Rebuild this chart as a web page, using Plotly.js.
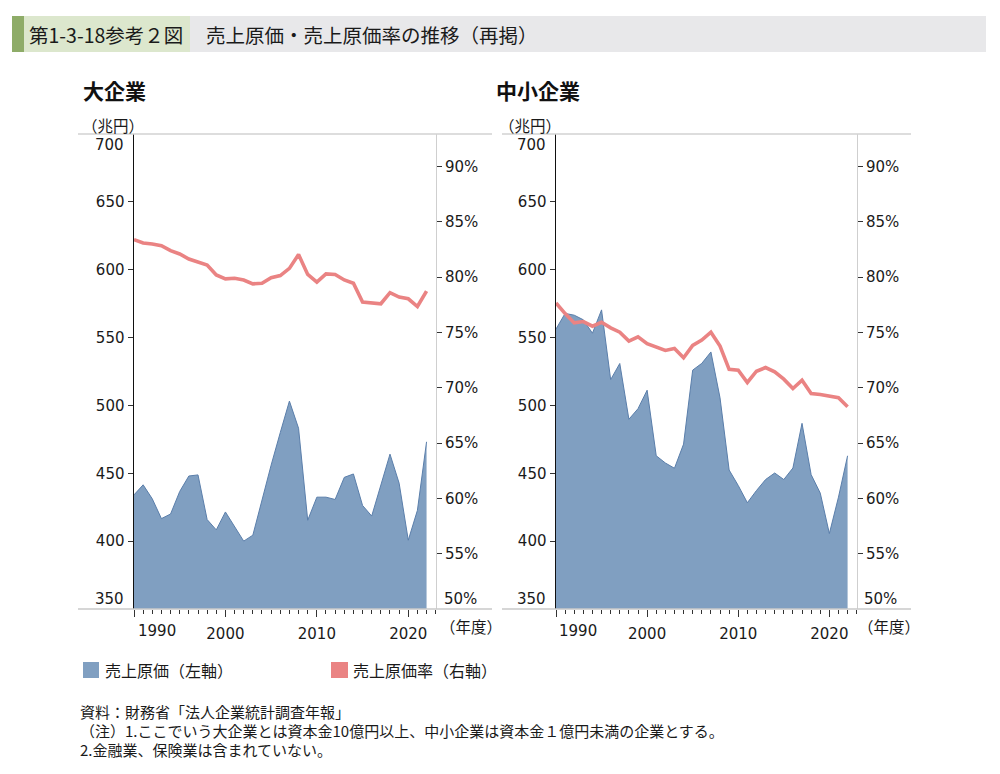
<!DOCTYPE html>
<html>
<head>
<meta charset="utf-8">
<script src="https://cdn.plot.ly/plotly-3.0.1.min.js"></script>
<style>
html,body{margin:0;padding:0;background:#fff;}
#chart{width:1000px;height:774px;}
</style>
</head>
<body>
<div id="chart"></div>
<script>
// ---- data ----
const years = [1990,1991,1992,1993,1994,1995,1996,1997,1998,1999,2000,2001,2002,2003,2004,2005,2006,2007,2008,2009,2010,2011,2012,2013,2014,2015,2016,2017,2018,2019,2020,2021,2022];
// 大企業
const largeCost = [434.1,441.5,431.2,416.6,420.0,436.6,448.0,448.8,415.9,408.3,421.5,410.5,400.0,404.4,431.2,456.0,480.0,503.2,483.2,415.4,432.4,432.4,430.7,447.0,449.5,426.3,418.5,441.0,464.1,442.7,400.7,422.7,473.2];
const largeRate = [83.4,83.1,83.0,82.85,82.4,82.1,81.65,81.4,81.1,80.2,79.85,79.9,79.75,79.4,79.45,79.95,80.15,80.8,82.05,80.25,79.55,80.3,80.25,79.75,79.45,77.75,77.7,77.6,78.6,78.2,78.05,77.35,78.75];
// 中小企業
const smallCost = [556.3,567.8,566.5,563.1,553.2,570.4,519.0,530.9,489.8,497.6,511.2,462.9,457.6,453.7,471.5,526.0,531.0,539.4,505.6,452.4,441.0,428.3,437.3,445.4,450.2,445.4,453.9,486.8,449.0,435.4,405.6,432.4,462.9];
const smallRate = [77.68,76.71,75.87,75.99,75.57,75.93,75.42,75.03,74.22,74.61,74.0,73.71,73.38,73.56,72.72,73.83,74.31,75.03,73.77,71.67,71.6,70.48,71.5,71.83,71.44,70.78,69.94,70.69,69.49,69.4,69.25,69.1,68.29];

const costTicks = [400,450,500,550,600,650];
const costTickText = ['400','450','500','550','600','650'];
const rateTicks = [55,60,65,70,75,80,85,90];
const rateTickText = ['55%','60%','65%','70%','75%','80%','85%','90%'];
const yearTicks = [1990,2000,2010,2020];
const yearTickText = ['','2000','2010','2020'];

// ---- layout helpers (pixel -> paper) ----
const W = 1000, H = 774;
const px = x => x / W;
const py = y => 1 - y / H;

const areaFill = '#809fc1';
const areaLine = '#5a7eaa';
const rateColor = '#ea8383';
const cjk = '"Noto Sans CJK JP", "Noto Sans", sans-serif';
const num = '"DejaVu Sans", Verdana, sans-serif';
const txt = '#1a1a1a';

const traces = [
  {x: years, y: largeCost, type:'scatter', mode:'lines', fill:'tozeroy', fillcolor: areaFill,
   line:{color: areaLine, width:1}, xaxis:'x', yaxis:'y', name:'売上原価（左軸）'},
  {x: years, y: largeRate, type:'scatter', mode:'lines',
   line:{color: rateColor, width:3.6}, xaxis:'x', yaxis:'y2', name:'売上原価率（右軸）'},
  {x: years, y: smallCost, type:'scatter', mode:'lines', fill:'tozeroy', fillcolor: areaFill,
   line:{color: areaLine, width:1}, xaxis:'x2', yaxis:'y3', name:'売上原価（左軸）'},
  {x: years, y: smallRate, type:'scatter', mode:'lines',
   line:{color: rateColor, width:3.6}, xaxis:'x2', yaxis:'y4', name:'売上原価率（右軸）'}
];

const yDom = [py(609), py(134)];
function xAxis(dom, anchor){
  return {domain: dom, anchor: anchor, range:[1990, 2023], showgrid:false, zeroline:false, showline:false,
    tickmode:'array', tickvals: yearTicks, ticktext: yearTickText, ticks:'outside', ticklen:7, tickwidth:1, tickcolor:'#333',
    ticklabelstandoff: 4,
    minor:{ticks:'outside', dtick:1, tick0:1990, ticklen:3.5, tickwidth:1, tickcolor:'#333', showgrid:false},
    tickfont:{family: num, size:15, color: txt}, fixedrange:true};
}
function costAxis(anchor){
  return {domain: yDom, anchor: anchor, range:[350,700], showgrid:false, zeroline:false,
    showline:true, linecolor:'#111', linewidth:1.5,
    tickmode:'array', tickvals: costTicks, ticktext: costTickText, ticks:'outside', ticklen:5, tickcolor:'#333',
    tickfont:{family: num, size:15, color: txt}, fixedrange:true};
}
function rateAxis(overlay, anchor){
  return {overlaying: overlay, anchor: anchor, side:'right', range:[50,92.95], showgrid:false, zeroline:false,
    showline:true, linecolor:'#cfcfcf', linewidth:1.2,
    tickmode:'array', tickvals: rateTicks, ticktext: rateTickText, ticks:'outside', ticklen:5, tickcolor:'#333',
    tickfont:{family: num, size:15, color: txt}, fixedrange:true};
}

const shapes = [
  // title bar
  {type:'rect', xref:'paper', yref:'paper', x0:px(12), x1:px(986), y0:py(52), y1:py(16), fillcolor:'#e8e8ea', line:{width:0}, layer:'below'},
  {type:'rect', xref:'paper', yref:'paper', x0:px(12), x1:px(190), y0:py(52), y1:py(16), fillcolor:'#dce7cd', line:{width:0}, layer:'below'},
  {type:'rect', xref:'paper', yref:'paper', x0:px(12), x1:px(24), y0:py(52), y1:py(16), fillcolor:'#8eac68', line:{width:0}, layer:'below'},
  // frame lines
  {type:'line', xref:'paper', yref:'paper', x0:px(78), x1:px(492), y0:py(134), y1:py(134), line:{color:'#d2d2d2', width:1.5}},
  {type:'line', xref:'paper', yref:'paper', x0:px(502), x1:px(911), y0:py(134), y1:py(134), line:{color:'#d2d2d2', width:1.5}},
  {type:'line', xref:'paper', yref:'paper', x0:px(78), x1:px(492), y0:py(609), y1:py(609), line:{color:'#c8c8c8', width:1.5}},
  {type:'line', xref:'paper', yref:'paper', x0:px(502), x1:px(911), y0:py(609), y1:py(609), line:{color:'#c8c8c8', width:1.5}},
  // legend swatches
  {type:'rect', xref:'paper', yref:'paper', x0:px(83), x1:px(99), y0:py(678), y1:py(662), fillcolor: areaFill, line:{width:0}},
  {type:'rect', xref:'paper', yref:'paper', x0:px(331), x1:px(348), y0:py(678), y1:py(662), fillcolor: rateColor, line:{width:0}}
];

function ann(text, x, y, opts){
  return Object.assign({text: text, xref:'paper', yref:'paper', x: px(x), y: py(y), showarrow:false,
    xanchor:'left', yanchor:'middle', font:{family: cjk, size:15, color: txt}}, opts || {});
}

const annotations = [
  ann('第1-3-18参考２図', 27, 34, {font:{family: cjk, size:19.5, color:'#1a1a1a'}}),
  ann('売上原価・売上原価率の推移（再掲）', 204, 34, {font:{family: cjk, size:19.5, color:'#1a1a1a'}}),
  ann('<b>大企業</b>', 81, 90, {font:{family: cjk, size:21, color:'#111'}}),
  ann('<b>中小企業</b>', 494, 90, {font:{family: cjk, size:21, color:'#111'}}),
  ann('（兆円）', 80, 125, {font:{family: cjk, size:15.5, color: txt}}),
  ann('（兆円）', 497, 125, {font:{family: cjk, size:15.5, color: txt}}),
  ann('（年度）', 438, 626, {font:{family: cjk, size:15.5, color: txt}}),
  ann('（年度）', 856, 626, {font:{family: cjk, size:15.5, color: txt}}),
  // axis end labels (drawn shifted inward, as in the reference)
  ann('700', 126, 145, {xanchor:'right', font:{family: num, size:15, color: txt}}),
  ann('350', 126, 599, {xanchor:'right', font:{family: num, size:15, color: txt}}),
  ann('700', 548, 145, {xanchor:'right', font:{family: num, size:15, color: txt}}),
  ann('350', 548, 599, {xanchor:'right', font:{family: num, size:15, color: txt}}),
  ann('50%', 442, 599, {font:{family: num, size:15, color: txt}}),
  ann('50%', 862, 599, {font:{family: num, size:15, color: txt}}),
  ann('1990', 157, 631, {xanchor:'center', font:{family: num, size:15, color: txt}}),
  ann('1990', 578, 631, {xanchor:'center', font:{family: num, size:15, color: txt}}),
  // legend
  ann('売上原価（左軸）', 103, 670, {font:{family: cjk, size:16, color: txt}}),
  ann('売上原価率（右軸）', 351, 670, {font:{family: cjk, size:16, color: txt}}),
  // notes
  ann('資料：財務省「法人企業統計調査年報」', 78, 711, {font:{family: cjk, size:15, color: txt}}),
  ann('（注）1.ここでいう大企業とは資本金10億円以上、中小企業は資本金１億円未満の企業とする。', 78, 730, {font:{family: cjk, size:15, color: txt}}),
  ann('2.金融業、保険業は含まれていない。', 78, 749, {font:{family: cjk, size:15, color: txt}})
];

const layout = {
  width: W, height: H, autosize:false,
  margin:{l:0, r:0, t:0, b:0, pad:0},
  paper_bgcolor:'#ffffff', plot_bgcolor:'rgba(0,0,0,0)',
  showlegend:false,
  xaxis: xAxis([px(134), px(435.7)], 'y'),
  yaxis: costAxis('x'),
  yaxis2: rateAxis('y', 'x'),
  xaxis2: xAxis([px(556), px(856.7)], 'y3'),
  yaxis3: costAxis('x2'),
  yaxis4: rateAxis('y3', 'x2'),
  shapes: shapes,
  annotations: annotations
};

Plotly.newPlot('chart', traces, layout, {displayModeBar:false, staticPlot:true});
</script>
</body>
</html>
